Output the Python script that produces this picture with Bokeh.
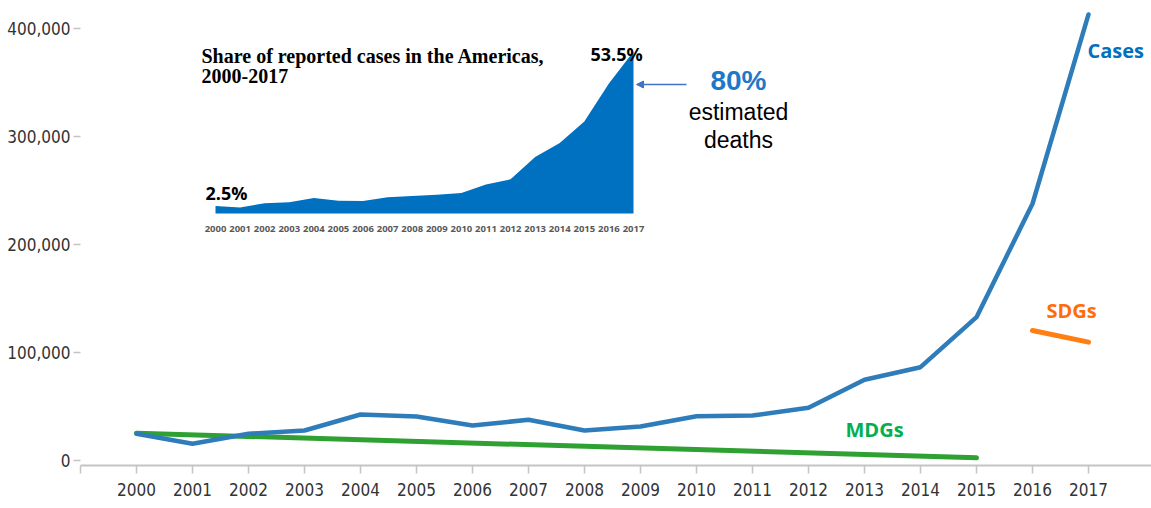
from bokeh.plotting import figure
from bokeh.models import Range1d, FixedTicker, Label, Arrow, NormalHead, NumeralTickFormatter
from bokeh.core.properties import value
from bokeh.embed import file_html
from bokeh.resources import INLINE

# ---- data ----
years = list(range(2000, 2018))
cases = [24300, 15000, 24300, 27400, 42200, 40400, 32000, 37300, 27400,
         31100, 40600, 41300, 48400, 74400, 86100, 132500, 237700, 413300]
mdg_years = [2000, 2015]
mdg_values = [24900, 2000]
sdg_years = [2016, 2017]
sdg_values = [120100, 109300]
share_years = years
share_pct = [2.5, 2.0, 3.4, 3.7, 5.1, 4.2, 4.1, 5.4, 5.8, 6.2, 6.8, 9.6,
             11.3, 18.7, 23.3, 30.4, 42.9, 53.5]
y_ticks = [0, 100000, 200000, 300000, 400000]
x_ticks = [1999] + years

W, H = 1151, 508
FL, FT, FB = 80, 0, 465  # frame left / top / bottom in canvas px
AXIS_FONT = "DejaVu Sans Condensed"

p = figure(width=W, height=H, output_backend="svg", toolbar_location=None,
           x_range=Range1d(1999, 2018.125), y_range=Range1d(-5102, 426252),
           min_border_left=FL, min_border_right=0, min_border_top=0,
           min_border_bottom=H - FB)
p.outline_line_color = None
p.xgrid.grid_line_color = None
p.ygrid.grid_line_color = None
p.background_fill_color = "white"

# pixel-space helper ranges (canvas coordinates) for annotations
ix_k = (633 - 215) / 17.0
iy_k = (213 - 51) / 53.5
p.extra_x_ranges = {
    "px": Range1d(FL, W),
    "ix": Range1d(2000 - (215 - FL) / ix_k, 2000 + (W - 215) / ix_k),
}
p.extra_y_ranges = {
    "py": Range1d(FB, FT),
    "iy": Range1d(-(FB - 213) / iy_k, (213 - FT) / iy_k),
}

# axes
xa = p.xaxis[0]
xa.ticker = FixedTicker(ticks=x_ticks)
xa.major_label_overrides = {1999: ""}
xa.axis_line_color = "#c4c4c4"
xa.axis_line_width = 2
xa.major_tick_line_color = "#c4c4c4"
xa.major_tick_line_width = 1.5
xa.major_tick_out = 8
xa.major_tick_in = 0
xa.minor_tick_line_color = None
xa.major_label_standoff = 9
xa.major_label_text_font = AXIS_FONT
xa.major_label_text_font_size = "17px"
xa.major_label_text_color = "#333333"

ya = p.yaxis[0]
ya.ticker = FixedTicker(ticks=y_ticks)
ya.formatter = NumeralTickFormatter(format="0,0")
ya.axis_line_color = None
ya.major_tick_line_color = "#c4c4c4"
ya.major_tick_line_width = 1.5
ya.major_tick_out = 7
ya.major_tick_in = 0
ya.minor_tick_line_color = None
ya.major_label_standoff = 3
ya.major_label_text_font = AXIS_FONT
ya.major_label_text_font_size = "17px"
ya.major_label_text_color = "#333333"

# inset area chart: share of reported cases
p.varea(x=share_years, y1=[0] * len(share_years), y2=share_pct,
        fill_color="#0070C0", x_range_name="ix", y_range_name="iy")
p.text(x=share_years, y=[0] * len(share_years), text=[str(y) for y in share_years],
       x_range_name="ix", y_range_name="iy", y_offset=15,
       text_align="center", text_baseline="middle",
       text_font=value("Open Sans"), text_font_style="bold",
       text_font_size="9.5px", text_color="#595959")

# main lines
p.line(mdg_years, mdg_values, line_color="#2FA032", line_width=5, line_cap="round")
p.line(years, cases, line_color="#2E7DBA", line_width=4.5, line_join="round", line_cap="round")
p.line(sdg_years, sdg_values, line_color="#FF7F12", line_width=5, line_cap="round")


def lab(x, y, text, **kw):
    opts = dict(x_range_name="px", y_range_name="py", text_baseline="alphabetic")
    opts.update(kw)
    p.add_layout(Label(x=x, y=y, text=text, **opts))


lab(201, 55, "Share of reported cases in the Americas,", text_font="Liberation Serif",
    text_font_style="bold", text_font_size="20px", text_color="black")
lab(201, 75, "2000-2017", text_font="Liberation Serif",
    text_font_style="bold", text_font_size="20px", text_color="black")
lab(590, 53, "53.5%", text_font="Open Sans", text_font_style="bold",
    text_font_size="18px", text_color="black")
lab(205, 192, "2.5%", text_font="Open Sans", text_font_style="bold",
    text_font_size="18px", text_color="black")

lab(738, 80, "80%", text_align="center", text_font="Liberation Sans",
    text_font_style="bold", text_font_size="28px", text_color="#1E78C8")
lab(738, 111, "estimated", text_align="center", text_font="Liberation Sans",
    text_font_size="23px", text_color="black")
lab(738, 139, "deaths", text_align="center", text_font="Liberation Sans",
    text_font_size="23px", text_color="black")

p.add_layout(Arrow(x_start=686, y_start=84, x_end=636, y_end=84,
                   x_range_name="px", y_range_name="py",
                   line_color="#4472C4", line_width=1.5,
                   end=NormalHead(size=7, fill_color="#4472C4", line_color="#4472C4")))

lab(1087, 50, "Cases", text_font="Open Sans", text_font_style="bold",
    text_font_size="20px", text_color="#0070C0")
lab(1046, 310, "SDGs", text_font="Open Sans", text_font_style="bold",
    text_font_size="20px", text_color="#FF6D0A")
lab(845, 429, "MDGs", text_font="Open Sans", text_font_style="bold",
    text_font_size="20px", text_color="#00B050")

open("out.html", "w").write(file_html(p, INLINE))
